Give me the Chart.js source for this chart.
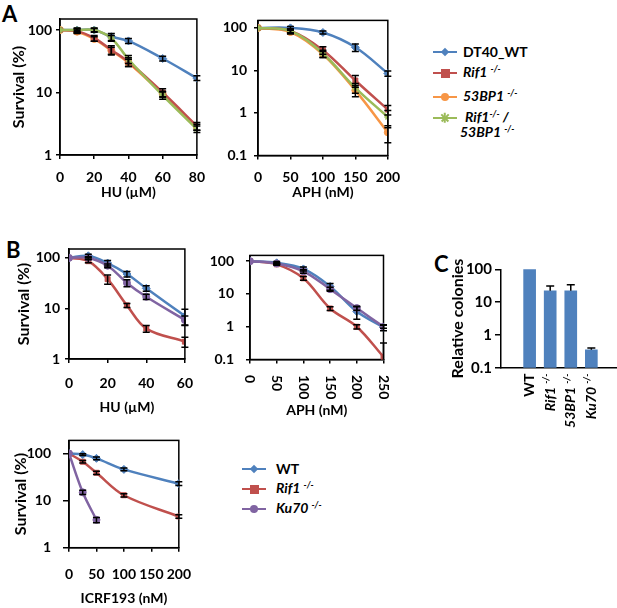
<!DOCTYPE html>
<html>
<head>
<meta charset="utf-8">
<script src="https://cdn.jsdelivr.net/npm/chart.js@4.4.0/dist/chart.umd.min.js"></script>
<style>
  body { margin: 0; width: 617px; height: 608px; position: relative; overflow: hidden; background: #fff;
         font-family: Lato, "Open Sans", sans-serif; font-weight: bold; color: #000; }
  canvas { position: absolute; }
  .letter { position: absolute; font-size: 22px; line-height: 22px; }
  .leg { position: absolute; height: 16px; display: flex; align-items: center; font-size: 14px; line-height: 16px; white-space: nowrap; }
  .txt { position: absolute; font-size: 14px; line-height: 16px; white-space: nowrap; }
  .ln { position: relative; width: 24px; height: 2.5px; margin-right: 6px; flex: none; }
  .mk { position: absolute; left: 50%; top: 50%; }
  .sq { width: 9px; height: 9px; margin: -4.5px 0 0 -4.5px; }
  .dia { width: 6px; height: 6px; margin: -3px 0 0 -3px; transform: rotate(45deg); }
  .ci { width: 8px; height: 8px; margin: -4px 0 0 -4px; border-radius: 50%; }
  .st { width: 10px; height: 1.5px; margin: -0.75px 0 0 -5px; }
  sup { font-size: 9px; vertical-align: 0; position: relative; top: -5px; font-style: italic; }
</style>
</head>
<body>
<div class="letter" style="left:2px;top:3px">A</div>
<div class="letter" style="left:6px;top:239px">B</div>
<div class="letter" style="left:434px;top:253px">C</div>

<div class="leg" style="left:433px;top:44px"><span class="ln" style="background:#4F81BD"><span class="mk dia" style="background:#4F81BD"></span></span><span>DT40_WT</span></div>
<div class="leg" style="left:433px;top:65px"><span class="ln" style="background:#C0504D"><span class="mk sq" style="background:#C0504D"></span></span><span><i>Rif1 <sup>-/-</sup></i></span></div>
<div class="leg" style="left:433px;top:89px"><span class="ln" style="background:#F79646"><span class="mk ci" style="background:#F79646"></span></span><span><i>53BP1 <sup>-/-</sup></i></span></div>
<div class="leg" style="left:433px;top:110px"><span class="ln" style="background:#9BBB59"><span class="mk st" style="background:#9BBB59;transform:rotate(45deg)"></span><span class="mk st" style="background:#9BBB59;transform:rotate(-45deg)"></span><span class="mk st" style="background:#9BBB59;transform:rotate(90deg)"></span></span><span style="margin-left:2px"><i>Rif1<sup>-/-</sup> /</i></span></div>
<div class="txt" style="left:460px;top:124px"><i>53BP1 <sup>-/-</sup></i></div>

<div class="leg" style="left:242px;top:461px"><span class="ln" style="background:#4F81BD;margin-right:10px"><span class="mk dia" style="background:#4F81BD"></span></span><span>WT</span></div>
<div class="leg" style="left:242px;top:481px"><span class="ln" style="background:#C0504D;margin-right:10px"><span class="mk sq" style="background:#C0504D"></span></span><span><i>Rif1 <sup>-/-</sup></i></span></div>
<div class="leg" style="left:242px;top:501px"><span class="ln" style="background:#8064A2;margin-right:10px"><span class="mk ci" style="background:#8064A2"></span></span><span><i>Ku70 <sup>-/-</sup></i></span></div>

<script>
// ---- panel A, HU ----
const huDoseA = [0, 10, 20, 30, 40, 60, 80];
const huWtA = [100, 100, 100, 78, 67, 35, 17];
const huWtErrA = [0, 8, 8, 10, 6, 3, 1.5];
const huRif1A = [100, 96, 74, 48, 31, 10, 2.9];
const huRif1ErrA = [0, 8, 8, 8, 5, 1.5, 0.4];
const hu53bp1A = [100, 94, 72, 47, 30, 9.5, 2.8];
const hu53bp1ErrA = [0, 5, 6, 6, 4, 1, 0.3];
const huDkoA = [100, 100, 100, 74, 34, 9, 2.6];
const huDkoErrA = [0, 6, 6, 8, 5, 1.2, 0.3];

// ---- panel A, APH ----
const aphDoseA = [0, 50, 100, 150, 200];
const aphWtA = [100, 100, 78, 35, 8.5];
const aphWtErrA = [0, 8, 6, 7, 1.2];
const aphRif1A = [100, 85, 30, 5.8, 1.2];
const aphRif1ErrA = [0, 10, 6, 1.8, 0.3];
const aph53bp1A = [100, 80, 24, 3.4, 0.35];
const aph53bp1ErrA = [0, 8, 4, 1, 0.15];
const aphDkoA = [100, 85, 25, 3.9, 0.8];
const aphDkoErrA = [0, 8, 5, 1, 0.35];

// ---- panel B, HU ----
const huDoseB = [0, 10, 20, 30, 40, 60];
const huWtB = [100, 110, 79, 48, 25, 7.1];
const huWtErrB = [0, 8, 10, 6, 3, 2.5];
const huRif1B = [100, 86, 38, 11.5, 4, 2.2];
const huRif1ErrB = [0, 6, 8, 1, 0.6, 0.5];
const huKu70B = [100, 100, 70, 32, 17, 5.9];
const huKu70ErrB = [0, 5, 6, 5, 2, 1.2];

// ---- panel B, APH ----
const aphDoseB = [0, 50, 100, 150, 200, 250];
const aphWtB = [100, 89, 58, 17, 2.9, 0.95];
const aphWtErrB = [0, 8, 8, 4, 1.2, 0.2];
const aphRif1B = [100, 80, 30, 3.6, 1.0, 0.12];
const aphRif1ErrB = [0, 5, 4, 0.5, 0.15, 0.2];
const aphKu70B = [100, 85, 49, 14, 3.7, 1.0];
const aphKu70ErrB = [0, 5, 6, 2, 0.5, 0.1];

// ---- panel B, ICRF193 ----
const icrfDose = [0, 25, 50, 100, 200];
const icrfWt = [100, 95, 79, 46, 23];
const icrfWtErr = [0, 4, 5, 3, 2];
const icrfRif1 = [100, 67, 39, 13, 4.6];
const icrfRif1Err = [0, 4, 3, 1, 0.4];
const icrfKu70 = [100, 15, 3.9];
const icrfKu70Err = [0, 1.5, 0.5];

// ---- panel C ----
const colonyNames = ['WT', 'Rif1', '53BP1', 'Ku70'];
const colonySup = ['', '-/-', '-/-', '-/-'];
const colonyValues = [100, 22, 22, 0.35];
const colonyErr = [0, 9, 12, 0.05];

const BLUE = '#4F81BD', RED = '#C0504D', ORANGE = '#F79646', GREEN = '#9BBB59', PURPLE = '#8064A2';
const FONT = 'Lato, "Open Sans", sans-serif';
const tickFont = { family: FONT, size: 14, weight: 'bold' };
const titleFont = { family: FONT, size: 14, weight: 'bold' };
const yTitleFont = { family: FONT, size: 16, weight: 'bold' };

function pts(xs, ys) {
    return ys.map((y, i) => ({ x: xs[i], y }));
}

function series(xs, ys, err, color, style, order) {
    return {
        data: pts(xs, ys), err, order,
        borderColor: color, backgroundColor: color,
        pointStyle: style, pointRadius: style === 'rectRot' ? 4 : 3.5,
        pointBorderWidth: style === 'star' ? 1.5 : 1,
        borderWidth: 2.5, tension: 0.35
    };
}

function makeCanvas(box) {
    const c = document.createElement('canvas');
    c.width = box.w;
    c.height = box.h;
    c.style.left = box.x + 'px';
    c.style.top = box.y + 'px';
    c.style.width = box.w + 'px';
    c.style.height = box.h + 'px';
    document.body.appendChild(c);
    return c;
}

const framePlugin = {
    id: 'frame',
    beforeDatasetsDraw(chart) {
        const { ctx, chartArea: a } = chart;
        ctx.save();
        ctx.strokeStyle = '#000';
        ctx.lineWidth = 1.5;
        ctx.strokeRect(a.left, a.top, a.right - a.left, a.bottom - a.top);
        ctx.restore();
    }
};

const errorBars = {
    id: 'errorBars',
    afterDatasetsDraw(chart) {
        const ctx = chart.ctx;
        const ys = chart.scales.y;
        chart.data.datasets.forEach((ds, i) => {
            if (!ds.err) return;
            chart.getDatasetMeta(i).data.forEach((el, j) => {
                const e = ds.err[j];
                if (!e) return;
                const v = ds.data[j].y;
                const top = ys.getPixelForValue(v + e);
                const bot = ds.errUp ? ys.getPixelForValue(v) : ys.getPixelForValue(Math.max(v - e, ys.min));
                const x = el.x, w = ds.errUp ? 4 : 3.5;
                ctx.save();
                ctx.strokeStyle = '#000';
                ctx.lineWidth = 1.5;
                ctx.beginPath();
                ctx.moveTo(x, top); ctx.lineTo(x, bot);
                ctx.moveTo(x - w, top); ctx.lineTo(x + w, top);
                if (!ds.errUp && v - e > ys.min) { ctx.moveTo(x - w, bot); ctx.lineTo(x + w, bot); }
                ctx.stroke();
                ctx.restore();
            });
        });
    }
};

// x tick labels turned a quarter clockwise (read top to bottom)
const verticalTicks = {
    id: 'verticalTicks',
    afterDraw(chart, args, o) {
        if (!o.start) return;
        const { ctx } = chart;
        const xs = chart.scales.x;
        ctx.save();
        ctx.font = `bold 14px ${FONT}`;
        ctx.fillStyle = '#000';
        ctx.textAlign = 'left';
        ctx.textBaseline = 'middle';
        xs.ticks.forEach(t => {
            ctx.save();
            ctx.translate(xs.getPixelForValue(t.value), o.start);
            ctx.rotate(Math.PI / 2);
            ctx.fillText(String(t.value), 0, 0);
            ctx.restore();
        });
        ctx.restore();
    }
};

function survivalChart(box, plot, opt) {
    return new Chart(makeCanvas(box), {
        type: 'line',
        data: { datasets: opt.datasets },
        plugins: [framePlugin, errorBars, verticalTicks],
        options: {
            responsive: false,
            animation: false,
            layout: { padding: { left: 0, top: plot.t - box.y, right: box.x + box.w - plot.r, bottom: 0 } },
            plugins: {
                legend: { display: false },
                tooltip: { enabled: false },
                verticalTicks: { start: opt.vertical ? opt.vertical - box.y : 0 }
            },
            scales: {
                x: {
                    type: 'linear', min: opt.xTicks[0], max: opt.xTicks[opt.xTicks.length - 1],
                    afterBuildTicks: s => { s.ticks = opt.xTicks.map(v => ({ value: v })); },
                    ticks: { display: !opt.vertical, font: tickFont, color: '#000', padding: opt.xPad, maxRotation: 0, autoSkip: false },
                    grid: { drawOnChartArea: false, tickLength: 4, color: '#000', lineWidth: 1.5 },
                    border: { color: '#000', width: 1.5 },
                    title: { display: true, text: opt.xTitle, font: titleFont, color: '#000', padding: 0 },
                    afterFit: s => { s.height = box.y + box.h - plot.b; }
                },
                y: {
                    type: 'logarithmic', min: opt.yTicks[0], max: opt.yMax,
                    afterBuildTicks: s => { s.ticks = opt.yTicks.map(v => ({ value: v })); },
                    ticks: { font: tickFont, color: '#000', padding: opt.yPad, callback: v => String(v) },
                    grid: { drawOnChartArea: false, tickLength: opt.yTick || 4, color: '#000', lineWidth: 1.5 },
                    border: { color: '#000', width: 1.5 },
                    title: { display: !!opt.yTitle, text: opt.yTitle, font: yTitleFont, color: '#000', padding: { top: opt.yTitlePad || 0, bottom: 0 } },
                    afterFit: s => { s.width = plot.l - box.x; }
                }
            }
        }
    });
}

// A - HU
survivalChart({ x: 0, y: 5, w: 215, h: 196 }, { l: 60, t: 19, r: 206, b: 155 }, {
    xTicks: [0, 20, 40, 60, 80], yTicks: [1, 10, 100], yMax: 150,
    xTitle: 'HU (µM)', yTitle: 'Survival (%)', yTitlePad: 9, xPad: 10, yPad: 4,
    datasets: [
        series(huDoseA, huWtA, huWtErrA, BLUE, 'rectRot', 3),
        series(huDoseA, huRif1A, huRif1ErrA, RED, 'rect', 1),
        series(huDoseA, hu53bp1A, hu53bp1ErrA, ORANGE, 'circle', 2),
        series(huDoseA, huDkoA, huDkoErrA, GREEN, 'star', 0)
    ]
});

// A - APH
survivalChart({ x: 200, y: 5, w: 210, h: 196 }, { l: 258, t: 19, r: 398, b: 155.5 }, {
    xTicks: [0, 50, 100, 150, 200], yTicks: [0.1, 1, 10, 100], yMax: 150,
    xTitle: 'APH (nM)', xPad: 10, yPad: 7,
    datasets: [
        series(aphDoseA, aphWtA, aphWtErrA, BLUE, 'rectRot', 3),
        series(aphDoseA, aphRif1A, aphRif1ErrA, RED, 'rect', 1),
        series(aphDoseA, aph53bp1A, aph53bp1ErrA, ORANGE, 'circle', 2),
        series(aphDoseA, aphDkoA, aphDkoErrA, GREEN, 'star', 0)
    ]
});

// B - HU
survivalChart({ x: 0, y: 235, w: 205, h: 181 }, { l: 69, t: 249, r: 195.5, b: 359 }, {
    xTicks: [0, 20, 40, 60], yTicks: [1, 10, 100], yMax: 150,
    xTitle: 'HU (µM)', yTitle: 'Survival (%)', yTitlePad: 14, xPad: 12, yPad: 5,
    datasets: [
        series(huDoseB, huWtB, huWtErrB, BLUE, 'rectRot', 1),
        series(huDoseB, huRif1B, huRif1ErrB, RED, 'rect', 2),
        series(huDoseB, huKu70B, huKu70ErrB, PURPLE, 'circle', 0)
    ]
});

// B - APH
survivalChart({ x: 195, y: 235, w: 198, h: 184 }, { l: 250, t: 248.5, r: 383.5, b: 359.5 }, {
    xTicks: [0, 50, 100, 150, 200, 250], yTicks: [0.1, 1, 10, 100], yMax: 150,
    xTitle: 'APH (nM)', yPad: 12, vertical: 375,
    datasets: [
        series(aphDoseB, aphWtB, aphWtErrB, BLUE, 'rectRot', 1),
        series(aphDoseB, aphRif1B, aphRif1ErrB, RED, 'rect', 2),
        series(aphDoseB, aphKu70B, aphKu70ErrB, PURPLE, 'circle', 0)
    ]
});

// B - ICRF193
survivalChart({ x: 0, y: 420, w: 205, h: 187 }, { l: 69, t: 433, r: 194.5, b: 547.7 }, {
    xTicks: [0, 50, 100, 150, 200], yTicks: [1, 10, 100], yMax: 190,
    xTitle: 'ICRF193 (nM)', yTitle: 'Survival (%)', yTitlePad: 11, xPad: 14, yPad: 12, yTick: 6,
    datasets: [
        series(icrfDose, icrfWt, icrfWtErr, BLUE, 'rectRot', 1),
        series(icrfDose, icrfRif1, icrfRif1Err, RED, 'rect', 2),
        series(icrfDose, icrfKu70, icrfKu70Err, PURPLE, 'circle', 0)
    ]
});

// C - category labels, turned bottom to top, italic names with superscript
const colonyLabelPlugin = {
    id: 'colonyLabels',
    afterDraw(chart) {
        const { ctx } = chart;
        const xs = chart.scales.x;
        const yEnd = chart.chartArea.bottom + 6;
        colonyNames.forEach((name, i) => {
            ctx.save();
            ctx.translate(xs.getPixelForValue(i), yEnd);
            ctx.rotate(-Math.PI / 2);
            ctx.fillStyle = '#000';
            ctx.textAlign = 'right';
            ctx.textBaseline = 'middle';
            let off = 0;
            if (colonySup[i]) {
                ctx.font = `italic bold 9px ${FONT}`;
                ctx.fillText(colonySup[i], 0, -4);
                off = ctx.measureText(colonySup[i]).width + 3;
            }
            ctx.font = `${colonySup[i] ? 'italic ' : ''}bold 14px ${FONT}`;
            ctx.fillText(name, -off, 0);
            ctx.restore();
        });
    }
};

const boxC = { x: 440, y: 255, w: 177, h: 185 };
const plotC = { l: 501, t: 269.3, r: 616, b: 367.7 };
new Chart(makeCanvas(boxC), {
    type: 'bar',
    data: {
        datasets: [{
            data: colonyValues.map((v, i) => ({ x: i, y: v })),
            err: colonyErr, errUp: true,
            backgroundColor: BLUE, barThickness: 12
        }]
    },
    plugins: [errorBars, colonyLabelPlugin],
    options: {
        responsive: false,
        animation: false,
        layout: { padding: { left: 0, top: plotC.t - boxC.y, right: boxC.x + boxC.w - plotC.r, bottom: 0 } },
        plugins: { legend: { display: false }, tooltip: { enabled: false } },
        scales: {
            x: {
                type: 'linear', min: -0.693, max: 3.5,
                afterBuildTicks: s => { s.ticks = colonyNames.map((n, i) => ({ value: i })); },
                ticks: { display: false },
                grid: { drawOnChartArea: false, drawTicks: false, color: '#000' },
                border: { color: '#000', width: 1.5 },
                afterFit: s => { s.height = boxC.y + boxC.h - plotC.b; }
            },
            y: {
                type: 'logarithmic', min: 0.1, max: 100,
                afterBuildTicks: s => { s.ticks = [0.1, 1, 10, 100].map(v => ({ value: v })); },
                ticks: { font: { family: FONT, size: 15, weight: 'bold' }, color: '#000', padding: 3, callback: v => String(v) },
                grid: { drawOnChartArea: false, tickLength: 6, color: '#000', lineWidth: 1.5 },
                border: { color: '#000', width: 1.5 },
                title: { display: true, text: 'Relative colonies', font: yTitleFont, color: '#000', padding: { top: 8, bottom: 0 } },
                afterFit: s => { s.width = plotC.l - boxC.x; }
            }
        }
    }
});
</script>
</body>
</html>
